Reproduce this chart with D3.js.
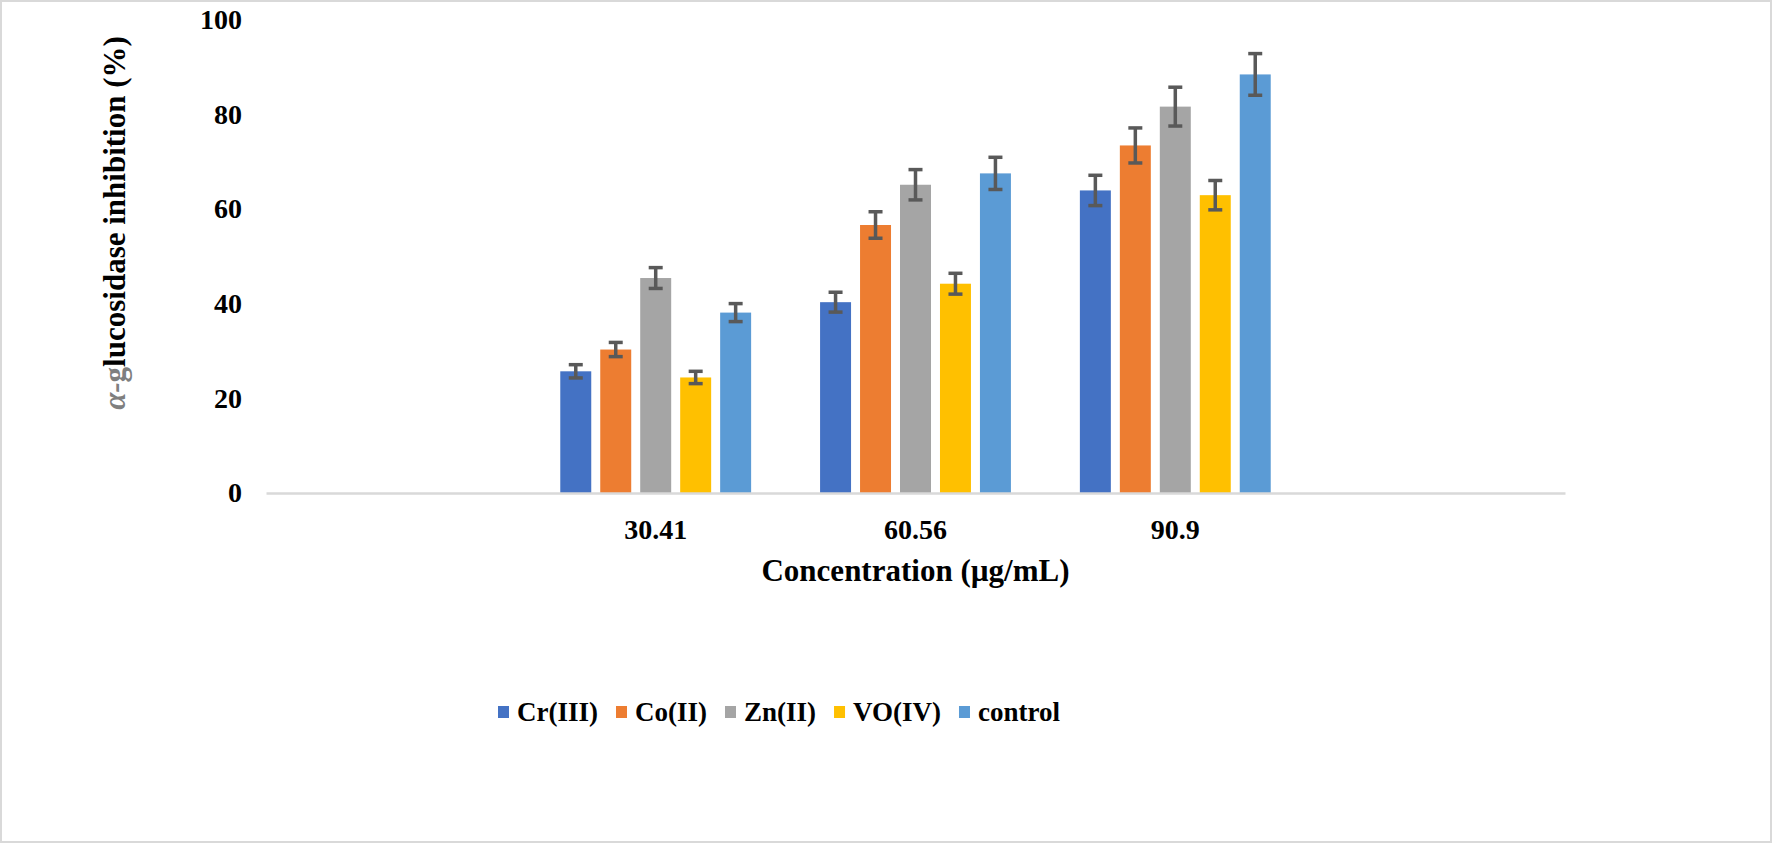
<!DOCTYPE html>
<html>
<head>
<meta charset="utf-8">
<script src="https://cdn.jsdelivr.net/npm/d3@7"></script>
<style>
  body { margin: 0; background: #fff; }
  svg text { font-family: "Liberation Serif", "Times New Roman", serif; font-weight: bold; fill: #000; }
</style>
</head>
<body>
<svg width="1772" height="843"></svg>
<script>
// concentrations (µg/mL) on the x axis
const categories = ['30.41', '60.56', '90.9'];
const seriesNames = ['Cr(III)', 'Co(II)', 'Zn(II)', 'VO(IV)', 'control'];
const seriesColors = ['#4472C4', '#ED7D31', '#A5A5A5', '#FFC000', '#5B9BD5'];

// inhibition (%) per series, one value per concentration
const crValues = [25.7, 40.3, 63.9];
const coValues = [30.3, 56.6, 73.4];
const znValues = [45.4, 65.1, 81.6];
const voValues = [24.4, 44.2, 62.9];
const controlValues = [38.1, 67.5, 88.4];

// error bar half-lengths
const crErr = [1.4, 2.1, 3.2];
const coErr = [1.5, 2.8, 3.7];
const znErr = [2.2, 3.2, 4.1];
const voErr = [1.3, 2.2, 3.1];
const controlErr = [1.9, 3.4, 4.4];

const yTicks = [0, 20, 40, 60, 80, 100];

const allValues = [crValues, coValues, znValues, voValues, controlValues];
const allErr = [crErr, coErr, znErr, voErr, controlErr];

// flat table for the bars
var rows = [];
categories.forEach(function (c, i) {
  seriesNames.forEach(function (s, j) {
    rows.push({ cat: c, series: s, value: allValues[j][i], err: allErr[j][i], color: seriesColors[j] });
  });
});

var svg = d3.select('svg');

// outer frame
svg.append('rect')
  .attr('x', 1).attr('y', 1)
  .attr('width', 1770).attr('height', 841)
  .attr('fill', 'none')
  .attr('stroke', '#d9d9d9')
  .attr('stroke-width', 2);

var plot = { left: 266, right: 1565, top: 19.5, bottom: 493 };

// the band scale leaves one empty slot on each side, like the original
var x = d3.scaleBand()
  .domain(categories)
  .range([plot.left, plot.right])
  .paddingInner(0)
  .paddingOuter(1);

var xSub = d3.scaleBand()
  .domain(seriesNames)
  .range([0, x.bandwidth()])
  .paddingInner(0.225)
  .paddingOuter(0.8625);

var y = d3.scaleLinear().domain([0, 100]).range([plot.bottom, plot.top]);

// y axis: labels only
var yAxis = svg.append('g')
  .attr('transform', 'translate(' + plot.left + ',0)')
  .call(d3.axisLeft(y).tickValues(yTicks).tickSize(0).tickPadding(24));
yAxis.select('.domain').remove();
yAxis.selectAll('text').style('font-size', '28px');

// bars
svg.append('g')
  .selectAll('rect')
  .data(rows)
  .enter()
  .append('rect')
  .attr('x', function (d) { return x(d.cat) + xSub(d.series); })
  .attr('y', function (d) { return y(d.value); })
  .attr('width', xSub.bandwidth())
  .attr('height', function (d) { return y(0) - y(d.value); })
  .attr('fill', function (d) { return d.color; });

// x axis, drawn after the bars so the baseline sits on top
var xAxis = svg.append('g')
  .attr('transform', 'translate(0,' + plot.bottom + ')')
  .call(d3.axisBottom(x).tickSize(0).tickSizeOuter(0).tickPadding(26));
xAxis.select('.domain')
  .attr('stroke', '#d9d9d9')
  .attr('stroke-width', 2.5);
xAxis.selectAll('text').style('font-size', '28px');

// error bars
var errG = svg.append('g')
  .attr('stroke', '#595959')
  .attr('stroke-width', 3.5)
  .selectAll('g')
  .data(rows)
  .enter()
  .append('g')
  .attr('transform', function (d) {
    return 'translate(' + (x(d.cat) + xSub(d.series) + xSub.bandwidth() / 2) + ',0)';
  });

errG.append('line')
  .attr('x1', 0).attr('x2', 0)
  .attr('y1', function (d) { return y(d.value + d.err); })
  .attr('y2', function (d) { return y(d.value - d.err); });
errG.append('line')
  .attr('x1', -7).attr('x2', 7)
  .attr('y1', function (d) { return y(d.value + d.err); })
  .attr('y2', function (d) { return y(d.value + d.err); });
errG.append('line')
  .attr('x1', -7).attr('x2', 7)
  .attr('y1', function (d) { return y(d.value - d.err); })
  .attr('y2', function (d) { return y(d.value - d.err); });

// axis titles
svg.append('text')
  .attr('x', (plot.left + plot.right) / 2)
  .attr('y', 581)
  .attr('text-anchor', 'middle')
  .style('font-size', '31px')
  .text('Concentration (µg/mL)');

var yTitle = svg.append('text')
  .attr('transform', 'translate(125,223) rotate(-90)')
  .attr('text-anchor', 'middle')
  .style('font-size', '31px');
yTitle.append('tspan')
  .style('fill', '#7f7f7f')
  .style('font-style', 'italic')
  .text('α-');
yTitle.append('tspan')
  .style('fill', '#7f7f7f')
  .text('g');
yTitle.append('tspan')
  .text('lucosidase inhibition (%)');

// legend
var legend = svg.append('g').attr('transform', 'translate(498,712)');
var lx = 0;
seriesNames.forEach(function (name, i) {
  var item = legend.append('g').attr('transform', 'translate(' + lx + ',0)');
  item.append('rect')
    .attr('x', 0).attr('y', -6)
    .attr('width', 11).attr('height', 12)
    .attr('fill', seriesColors[i]);
  var t = item.append('text')
    .attr('x', 19)
    .attr('y', 9)
    .style('font-size', '27px')
    .text(name);
  lx += 19 + t.node().getComputedTextLength() + 18;
});
</script>
</body>
</html>
